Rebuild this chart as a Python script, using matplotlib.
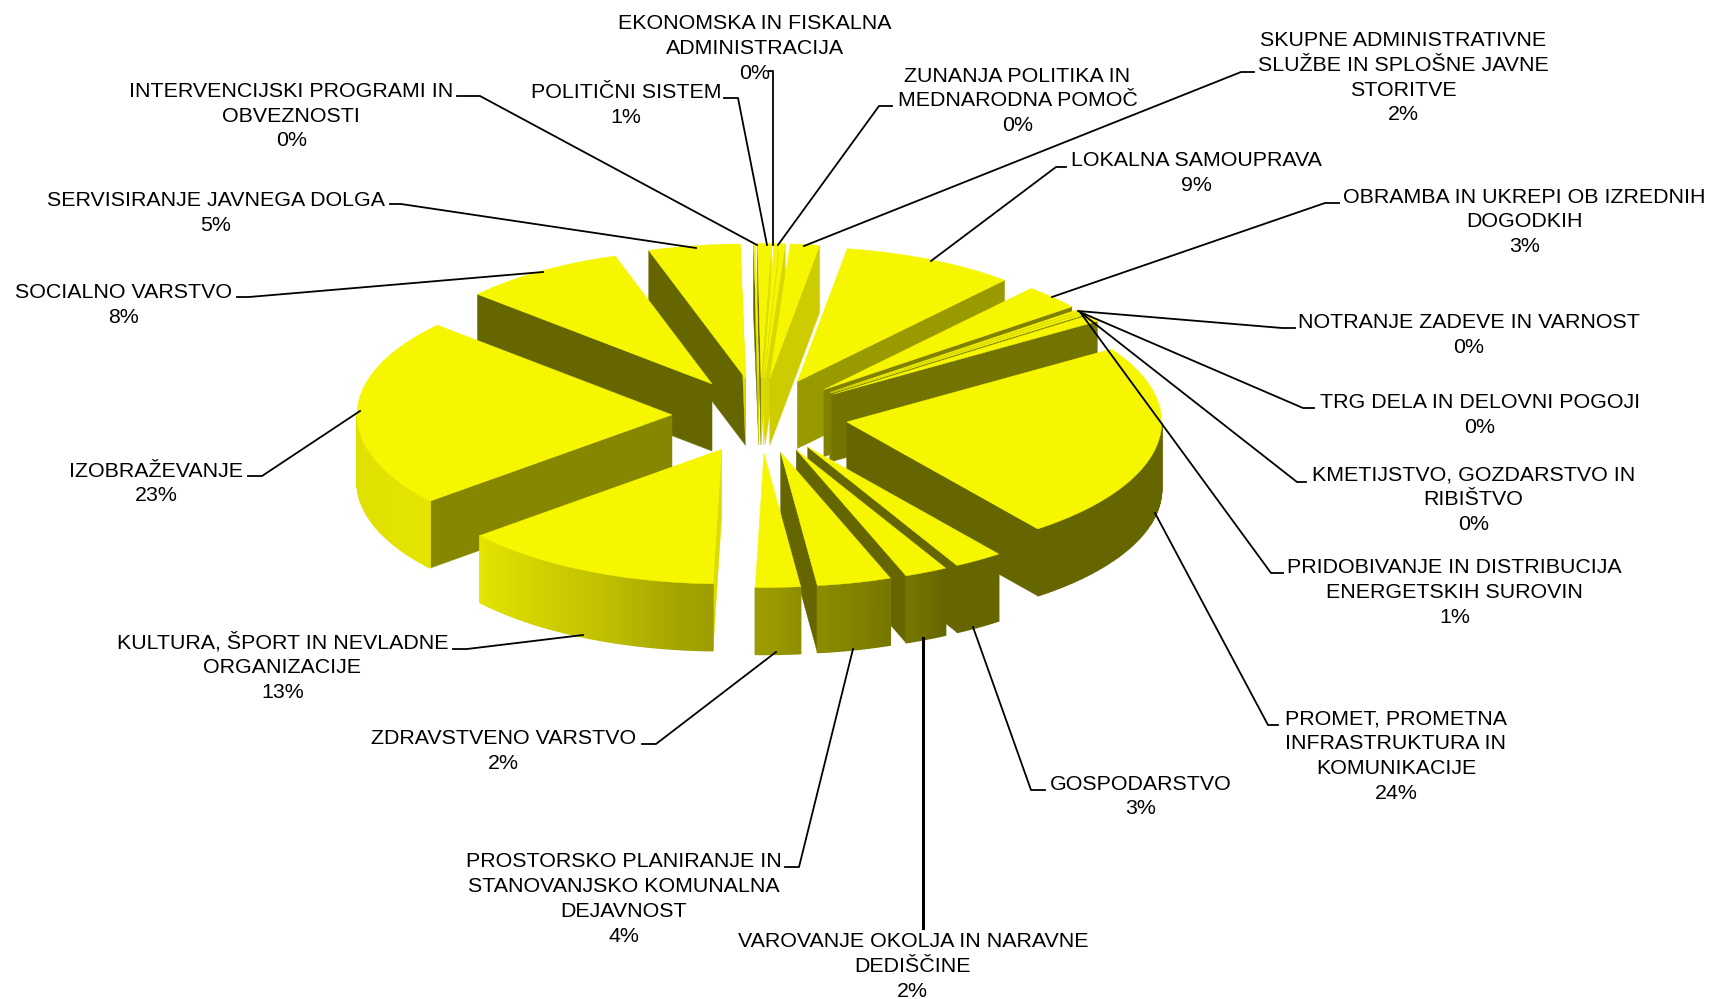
import numpy as np
import matplotlib
matplotlib.use("Agg")
import matplotlib.pyplot as plt

plt.rcParams['font.family'] = ['Liberation Sans', 'DejaVu Sans']

# ---- data (clockwise from the top of the pie) ----
names = [
    "EKONOMSKA IN FISKALNA\nADMINISTRACIJA",
    "ZUNANJA POLITIKA IN\nMEDNARODNA POMOČ",
    "SKUPNE ADMINISTRATIVNE\nSLUŽBE IN SPLOŠNE JAVNE\nSTORITVE",
    "LOKALNA SAMOUPRAVA",
    "OBRAMBA IN UKREPI OB IZREDNIH\nDOGODKIH",
    "NOTRANJE ZADEVE IN VARNOST",
    "TRG DELA IN DELOVNI POGOJI",
    "KMETIJSTVO, GOZDARSTVO IN\nRIBIŠTVO",
    "PRIDOBIVANJE IN DISTRIBUCIJA\nENERGETSKIH SUROVIN",
    "PROMET, PROMETNA\nINFRASTRUKTURA IN\nKOMUNIKACIJE",
    "GOSPODARSTVO",
    "VAROVANJE OKOLJA IN NARAVNE\nDEDIŠČINE",
    "PROSTORSKO PLANIRANJE IN\nSTANOVANJSKO KOMUNALNA\nDEJAVNOST",
    "ZDRAVSTVENO VARSTVO",
    "KULTURA, ŠPORT IN NEVLADNE\nORGANIZACIJE",
    "IZOBRAŽEVANJE",
    "SOCIALNO VARSTVO",
    "SERVISIRANJE JAVNEGA DOLGA",
    "INTERVENCIJSKI PROGRAMI IN\nOBVEZNOSTI",
    "POLITIČNI SISTEM",
]
shares = [0.25, 0.25, 1.5, 8.9, 3.0, 0.2, 0.2, 0.2, 0.85, 23.75,
          2.51, 2.2, 3.8, 2.3, 13.49, 22.7, 8.4, 4.7, 0.1, 0.7]

# ---- layout ----
START = 1.9
CX, CY, RX, RY = 760, 415.5, 315, 134.5
EXPLODE = 88
DEPTH = 67
TOP = (0.965, 0.965, 0.0)
S = 1710 / 1568
TEXT_DY = 1.5

# label centre (x, y of block centre) in the 1568-wide picture
label_pos = [
    (692, 43), (933, 91), (1287, 70), (1097, 157), (1398, 202), (1347, 306),
    (1357, 379), (1351, 457), (1334, 542), (1280, 692), (1046, 729), (837, 885),
    (572, 823), (462, 687), (259, 610), (143, 442), (113, 278), (198, 194),
    (267, 105), (574, 95),
]
# leader polylines in full-size pixels
leaders = [
    [(769, 71), (773, 71), (773, 245)],
    [(892, 106), (879, 106), (778, 245)],
    [(1254, 72), (1241, 72), (804, 246)],
    [(1066, 167), (1056, 167), (931, 261)],
    [(1339, 203), (1325, 203), (1052, 297)],
    [(1295, 328), (1282, 328), (1078, 311)],
    [(1314, 408), (1303, 408), (1080, 312)],
    [(1306, 482), (1297, 482), (1080, 312)],
    [(1283, 573), (1271, 573), (1080, 312)],
    [(1278, 725), (1268, 725), (1155, 513)],
    [(1045, 790), (1031, 790), (973, 627)],
    [(923, 638), (923, 928)],
    [(785, 867), (799, 867), (853, 649)],
    [(642, 744), (656, 744), (776, 652)],
    [(453, 649), (467, 649), (583, 635)],
    [(248, 476), (262, 476), (360, 411)],
    [(237, 297), (249, 297), (543, 272)],
    [(390, 204), (401, 204), (696, 248)],
    [(457, 96), (480, 96), (757, 245)],
    [(724, 98), (738, 98), (767, 245)],
]
leader_w = [1.3] * 20
leader_w[11] = 2.2


def radial_shade(phi):
    v = np.interp(phi % 360, [0, 80, 92, 99, 131, 140, 147, 160, 360],
                  [0x66, 0xE4, 0xDC, 0xCC, 0x99, 0x86, 0x73, 0x66, 0x66])
    return (v / 255, v / 255, 0)


def outer_shade(t):
    v = np.interp(t % 360, [0, 152, 160, 173, 178, 188, 202, 230, 270, 360],
                  [0x66, 0x66, 0x77, 0x8C, 0x99, 0xA4, 0xC0, 0xE4, 0xE0, 0xE0])
    return (v / 255, v / 255, 0)


fig = plt.figure(figsize=(17.1, 9.99), dpi=100)
ax = fig.add_axes([0, 0, 1, 1])
ax.set_xlim(0, 1710)
ax.set_ylim(999, 0)
ax.axis('off')

shares_arr = np.array(shares, dtype=float)
edges = START + np.concatenate([[0], np.cumsum(shares_arr)]) * 3.6
t0s, t1s = edges[:-1], edges[1:]
mids = (t0s + t1s) / 2


def quad(p, c, z, lw=0.3):
    ax.fill([q[0] for q in p], [q[1] for q in p], facecolor=c, edgecolor=c,
            linewidth=lw, zorder=z)


for rank, i in enumerate(np.argsort(-np.cos(np.radians(mids)))):
    t0, t1, m = t0s[i], t1s[i], mids[i]
    z = 2 + rank
    ax0 = CX + EXPLODE * np.sin(np.radians(m))
    ay0 = CY - EXPLODE * RY / RX * np.cos(np.radians(m))
    ts = np.linspace(t0, t1, max(3, int((t1 - t0) * 1.2) + 2))
    xs = ax0 + RX * np.sin(np.radians(ts))
    ys = ay0 - RY * np.cos(np.radians(ts))
    # radial faces
    for end_t, nrm, ex, ey in [(t0, t0 - 90, xs[0], ys[0]), (t1, t1 + 90, xs[-1], ys[-1])]:
        if np.cos(np.radians(nrm)) < 0.02:
            quad([(ax0, ay0), (ex, ey), (ex, ey + DEPTH), (ax0, ay0 + DEPTH)],
                 radial_shade(nrm), z)
    # outer rim
    for k in range(len(ts) - 1):
        tm = (ts[k] + ts[k + 1]) / 2
        if np.cos(np.radians(tm)) < 0:
            xa = xs[k]; xb = xs[k + 1]
            quad([(xa, ys[k]), (xb, ys[k + 1]),
                  (xb, ys[k + 1] + DEPTH), (xa, ys[k] + DEPTH)],
                 outer_shade(tm), z, lw=1.0)
    # top
    quad([(ax0, ay0)] + list(zip(xs, ys)), TOP, z + 0.5)

for path, w in zip(leaders, leader_w):
    ax.plot([p[0] for p in path], [p[1] for p in path], color='black', lw=w,
            solid_joinstyle='round', zorder=60)

for name, val, (lx, ly) in zip(names, shares, label_pos):
    txt = f"{name}\n{int(round(val))}%"
    ax.text(lx * S, ly * S + TEXT_DY, txt, ha='center', va='center', fontsize=15.4,
            color='black', linespacing=1.38, zorder=70)

fig.savefig("out.png", dpi=100, facecolor='white')
